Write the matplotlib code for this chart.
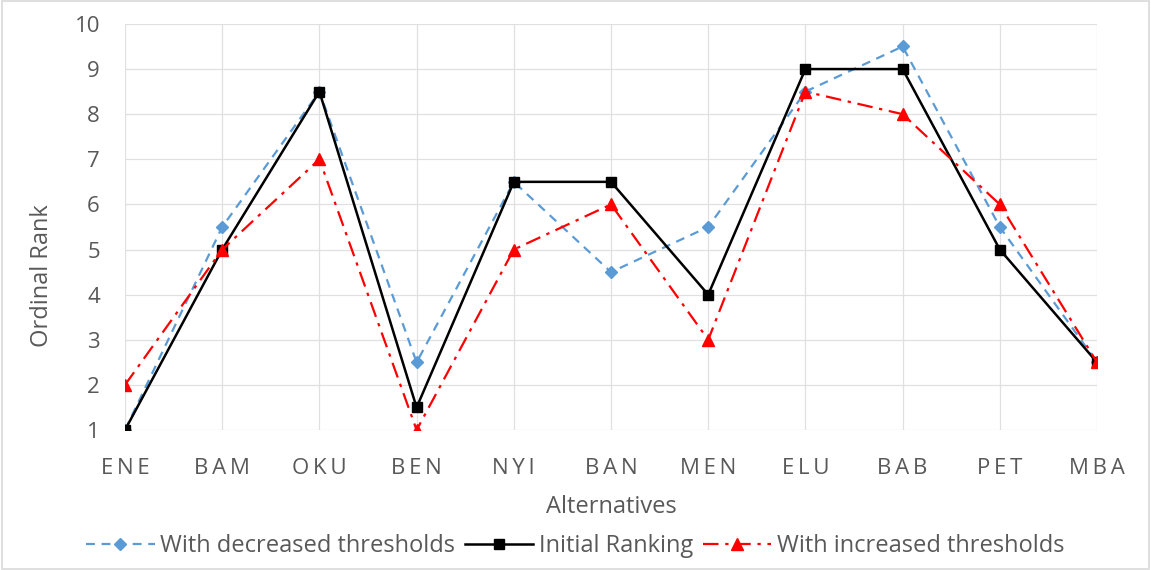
import matplotlib.pyplot as plt
from matplotlib.patches import Rectangle

alternatives = ["ENE", "BAM", "OKU", "BEN", "NYI", "BAN", "MEN", "ELU", "BAB", "PET", "MBA"]
decreased = [1, 5.5, 8.5, 2.5, 6.5, 4.5, 5.5, 8.5, 9.5, 5.5, 2.5]
initial = [1, 5, 8.5, 1.5, 6.5, 6.5, 4, 9, 9, 5, 2.5]
increased = [2, 5, 7, 1, 5, 6, 3, 8.5, 8, 6, 2.5]
y_ticks = list(range(1, 11))

plt.rcParams["font.family"] = ["Open Sans", "DejaVu Sans"]

fig = plt.figure(figsize=(11.51, 5.70), dpi=100)
ax = fig.add_axes([0.1086, 0.2456, 0.8445, 0.7124])
x = list(range(len(alternatives)))

ax.plot(x, decreased, color="#5B9BD5", linestyle=(0, (4, 3)), linewidth=1.6,
        marker="D", markersize=6, label="With decreased thresholds", zorder=3)
ax.plot(x, initial, color="black", linestyle="-", linewidth=1.8,
        marker="s", markersize=7, label="Initial Ranking", zorder=4)
ax.plot(x, increased, color="#FF0000", linestyle=(0, (7, 3, 1.5, 3)), linewidth=1.6,
        marker="^", markersize=8, label="With increased thresholds", zorder=5)

# spaced tick labels, like the original chart
spaced = ["\u2009".join(a) for a in alternatives]

ax.set_xlim(0, len(alternatives) - 1)
ax.set_ylim(1, 10)
ax.set_xticks(x)
ax.set_xticklabels(spaced)
ax.set_yticks(y_ticks)
ax.grid(True, color="#E0E0E0", linewidth=0.9)
ax.set_axisbelow(True)
for s in ax.spines.values():
    s.set_visible(False)
ax.tick_params(axis="both", length=0, labelsize=16, labelcolor="#595959")
ax.tick_params(axis="x", pad=20)
ax.tick_params(axis="y", pad=18)

ax.set_xlabel("Alternatives", fontsize=17, color="#595959", va="center")
ax.xaxis.set_label_coords(0.5, -0.19)
ax.set_ylabel("Ordinal Rank", fontsize=17, color="#595959", va="center", ha="center")
ax.yaxis.set_label_coords(-0.085, 0.38)

fig.legend(loc="center", bbox_to_anchor=(0.5, 1 - 546 / 570), ncol=3, frameon=False,
           fontsize=17, labelcolor="#595959", handlelength=2.9, columnspacing=0.4,
           handletextpad=0.25)
fig.add_artist(Rectangle((0.002, 0.002), 0.996, 0.996, transform=fig.transFigure,
                         fill=False, edgecolor="#D9D9D9", linewidth=1.2))

fig.savefig("out.png", dpi=100)
